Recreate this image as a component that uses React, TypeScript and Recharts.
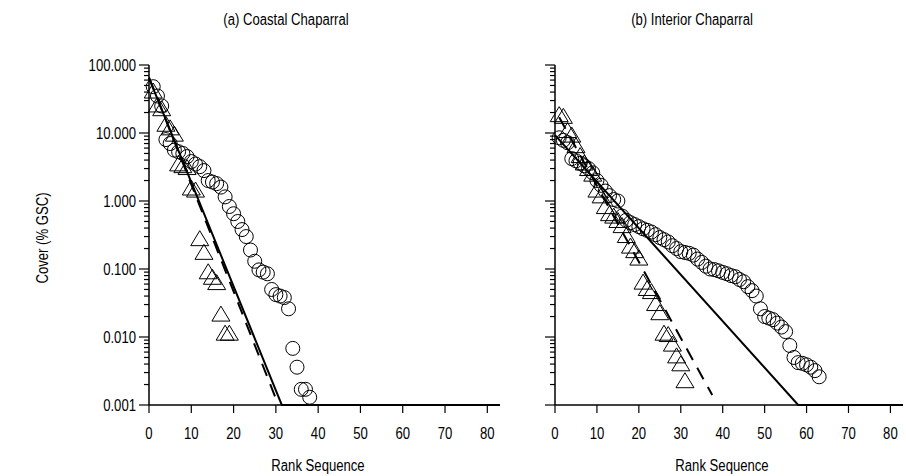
import React from "react";
import { ScatterChart, Scatter, XAxis, YAxis } from "recharts";

// Arial Narrow look: Liberation Sans squeezed horizontally
const FONT = "'Liberation Sans', Arial, sans-serif";
const SQUEEZE = 0.82;

const xTicks = [0, 10, 20, 30, 40, 50, 60, 70, 80];
const yDecades = [0.001, 0.01, 0.1, 1, 10];
const yMinorSteps = [1, 2, 3, 4, 5, 6, 7, 8, 9];

// cover (% GSC) by rank
const coastalCircles = [
  48, 35, 25, 8, 7, 5.6, 5.3, 5.0, 4.5, 3.8, 3.5, 3.2, 2.8, 2.0, 1.9, 1.8, 1.6, 1.15, 0.83,
  0.65, 0.5, 0.38, 0.3, 0.19, 0.13, 0.097, 0.09, 0.085, 0.05, 0.042, 0.04, 0.038, 0.026,
  0.0068, 0.0036, 0.0017, 0.0017, 0.0013,
];
const coastalTriangles = [
  40, 25, 22, 13, 11.5, 9.3, 3.4, 3.2, 3.0, 1.5, 1.4, 0.27, 0.17, 0.088, 0.073, 0.061, 0.021,
  0.011, 0.011,
];
const interiorCircles = [
  8.5, 7.8, 7.2, 4.2, 3.9, 3.6, 3.3, 3.0, 2.6, 2.0, 1.7, 1.4, 1.2, 1.05, 1.0, 0.6, 0.52, 0.48,
  0.45, 0.42, 0.39, 0.37, 0.35, 0.32, 0.29, 0.27, 0.25, 0.22, 0.2, 0.18, 0.175, 0.17, 0.16,
  0.14, 0.125, 0.11, 0.1, 0.098, 0.094, 0.089, 0.085, 0.08, 0.077, 0.07, 0.065, 0.055, 0.048,
  0.04, 0.026, 0.02, 0.019, 0.018, 0.016, 0.014, 0.012, 0.0075, 0.005, 0.0042, 0.0041, 0.0039,
  0.0036, 0.0032, 0.0026,
];
const interiorTriangles = [
  18, 17, 10.5, 9, 6.3, 4.5, 3.5, 2.9, 2.4, 1.4, 1.15, 0.8, 0.63, 0.58, 0.5, 0.42, 0.3, 0.21,
  0.18, 0.14, 0.062, 0.05, 0.045, 0.03, 0.022, 0.011, 0.0105, 0.0076, 0.0051, 0.0039, 0.0022,
];

// fitted models as [rank, cover] vertices
const coastalSolid = [[0, 64], [31.4, 0.001], [83, 0.001]];
const coastalDashed = [[0, 66], [30.6, 0.001]];
const interiorSolid = [[0, 9.3], [58, 0.001], [83, 0.001]];
const interiorDashed = [[1, 17], [37.5, 0.0014]];

const byRank = (vals: number[]) => vals.map((v, i) => ({ x: i + 1, y: v }));
const vertices = (pts: number[][]) => pts.map(([x, y]) => ({ x, y }));

const yTicks = [...yDecades.flatMap((d) => yMinorSteps.map((k) => +(k * d).toPrecision(3))), 100];
const isMajor = (v: number) => Math.abs(Math.log10(v) - Math.round(Math.log10(v))) < 1e-9;

function NarrowText({ x, y, anchor = "middle", size = 16, dy = "0.35em", rotate = 0, children }: any) {
  return (
    <text
      transform={`translate(${x} ${y}) rotate(${rotate}) scale(${SQUEEZE} 1)`}
      dy={dy}
      textAnchor={anchor}
      fontSize={size}
      fontFamily={FONT}
      fill="#000"
    >
      {children}
    </text>
  );
}

const CircleMark = (p: any) => (
  <circle cx={p.cx} cy={p.cy} r={7} fill="none" stroke="#000" strokeWidth={1} />
);

const TriangleMark = (p: any) => {
  const { cx, cy } = p;
  return (
    <polygon
      points={`${cx},${cy - 9} ${cx + 9},${cy + 6} ${cx - 9},${cy + 6}`}
      fill="none"
      stroke="#000"
      strokeWidth={1}
    />
  );
};

const NoMark = () => <g />;

const YTick = ({ x, y, payload, showLabel }: any) => {
  const v = payload.value;
  const major = isMajor(v);
  return (
    <g>
      <line x1={x - (major ? 10 : 5)} x2={x} y1={y} y2={y} stroke="#000" strokeWidth={1.2} />
      {major && showLabel && (
        <NarrowText x={x - 13} y={y} anchor="end">
          {v.toFixed(3)}
        </NarrowText>
      )}
    </g>
  );
};

const XTick = ({ x, y, payload }: any) => (
  <NarrowText x={x} y={y} dy="0.71em">
    {payload.value}
  </NarrowText>
);

type PanelProps = {
  left: number;
  plotWidth: number;
  circles: number[];
  triangles: number[];
  solid: number[][];
  dashed: number[][];
  showLabels: boolean;
};

function Panel({ left, plotWidth, circles, triangles, solid, dashed, showLabels }: PanelProps) {
  const width = 149 + plotWidth + 20;
  return (
    <div style={{ position: "absolute", left, top: 0 }}>
      <ScatterChart width={width} height={476} margin={{ top: 65, right: 20, left: 0, bottom: 31 }}>
        <XAxis
          type="number"
          dataKey="x"
          domain={[0, 83]}
          ticks={xTicks}
          interval={0}
          height={40}
          tickSize={8}
          tickMargin={15}
          axisLine={{ stroke: "#000", strokeWidth: 1.5 }}
          tickLine={{ stroke: "#000", strokeWidth: 1.2 }}
          tick={<XTick />}
        />
        <YAxis
          type="number"
          dataKey="y"
          scale="log"
          domain={[0.001, 100]}
          ticks={yTicks}
          interval={0}
          width={149}
          tickSize={0}
          tickMargin={0}
          tickLine={false}
          axisLine={{ stroke: "#000", strokeWidth: 1.5 }}
          tick={<YTick showLabel={showLabels} />}
        />
        <Scatter
          data={vertices(solid)}
          line={{ stroke: "#000", strokeWidth: 2 }}
          shape={NoMark}
          isAnimationActive={false}
        />
        <Scatter
          data={vertices(dashed)}
          line={{ stroke: "#000", strokeWidth: 2, strokeDasharray: "13 9" }}
          shape={NoMark}
          isAnimationActive={false}
        />
        <Scatter data={byRank(triangles)} shape={TriangleMark} isAnimationActive={false} />
        <Scatter data={byRank(circles)} shape={CircleMark} isAnimationActive={false} />
      </ScatterChart>
    </div>
  );
}

export default function App() {
  return (
    <div
      style={{
        position: "absolute",
        left: 0,
        top: 0,
        width: 906,
        height: 476,
        background: "#fff",
        overflow: "hidden",
      }}
    >
      <Panel
        left={0}
        plotWidth={351}
        circles={coastalCircles}
        triangles={coastalTriangles}
        solid={coastalSolid}
        dashed={coastalDashed}
        showLabels
      />
      <Panel
        left={406}
        plotWidth={348}
        circles={interiorCircles}
        triangles={interiorTriangles}
        solid={interiorSolid}
        dashed={interiorDashed}
        showLabels={false}
      />
      <svg
        width={906}
        height={476}
        style={{ position: "absolute", left: 0, top: 0, pointerEvents: "none" }}
      >
        <NarrowText x={286} y={19}>(a) Coastal Chaparral</NarrowText>
        <NarrowText x={692} y={19}>(b) Interior Chaparral</NarrowText>
        <NarrowText x={318} y={465}>Rank Sequence</NarrowText>
        <NarrowText x={722} y={465}>Rank Sequence</NarrowText>
        <NarrowText x={42} y={238} rotate={-90}>Cover (% GSC)</NarrowText>
      </svg>
    </div>
  );
}
